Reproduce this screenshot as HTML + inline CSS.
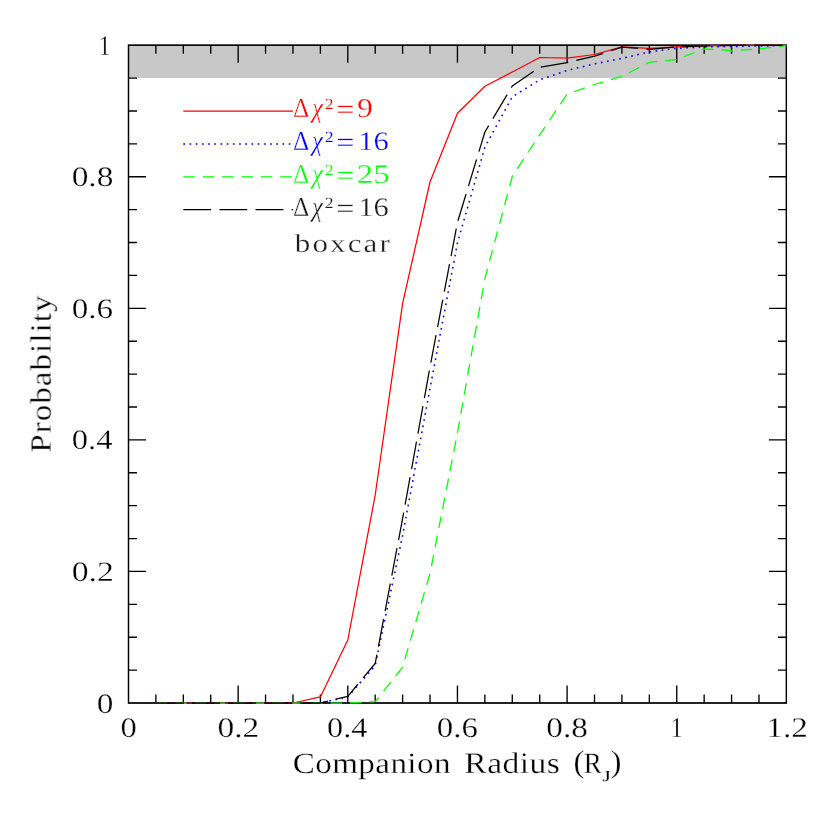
<!DOCTYPE html>
<html><head><meta charset="utf-8"><title>Probability vs Companion Radius</title>
<style>
html,body{margin:0;padding:0;background:#fff;}
svg{display:block;}
text{font-family:"Liberation Serif",serif;text-rendering:geometricPrecision;}
</style></head><body>
<svg width="830" height="830" viewBox="0 0 830 830">
<rect x="0" y="0" width="830" height="830" fill="#fff"/>
<rect x="128.5" y="45.2" width="657.9" height="32.9" fill="#c8c8c8"/>
<path d="M155.91 703.00v-8.5M155.91 45.20v8.5M183.32 703.00v-8.5M183.32 45.20v8.5M210.74 703.00v-8.5M210.74 45.20v8.5M238.15 703.00v-17.5M238.15 45.20v17.5M265.56 703.00v-8.5M265.56 45.20v8.5M292.98 703.00v-8.5M292.98 45.20v8.5M320.39 703.00v-8.5M320.39 45.20v8.5M347.80 703.00v-17.5M347.80 45.20v17.5M375.21 703.00v-8.5M375.21 45.20v8.5M402.62 703.00v-8.5M402.62 45.20v8.5M430.04 703.00v-8.5M430.04 45.20v8.5M457.45 703.00v-17.5M457.45 45.20v17.5M484.86 703.00v-8.5M484.86 45.20v8.5M512.28 703.00v-8.5M512.28 45.20v8.5M539.69 703.00v-8.5M539.69 45.20v8.5M567.10 703.00v-17.5M567.10 45.20v17.5M594.51 703.00v-8.5M594.51 45.20v8.5M621.92 703.00v-8.5M621.92 45.20v8.5M649.34 703.00v-8.5M649.34 45.20v8.5M676.75 703.00v-17.5M676.75 45.20v17.5M704.16 703.00v-8.5M704.16 45.20v8.5M731.58 703.00v-8.5M731.58 45.20v8.5M758.99 703.00v-8.5M758.99 45.20v8.5M128.50 670.11h8.5M786.40 670.11h-8.5M128.50 637.22h8.5M786.40 637.22h-8.5M128.50 604.33h8.5M786.40 604.33h-8.5M128.50 571.44h17.5M786.40 571.44h-17.5M128.50 538.55h8.5M786.40 538.55h-8.5M128.50 505.66h8.5M786.40 505.66h-8.5M128.50 472.77h8.5M786.40 472.77h-8.5M128.50 439.88h17.5M786.40 439.88h-17.5M128.50 406.99h8.5M786.40 406.99h-8.5M128.50 374.10h8.5M786.40 374.10h-8.5M128.50 341.21h8.5M786.40 341.21h-8.5M128.50 308.32h17.5M786.40 308.32h-17.5M128.50 275.43h8.5M786.40 275.43h-8.5M128.50 242.54h8.5M786.40 242.54h-8.5M128.50 209.65h8.5M786.40 209.65h-8.5M128.50 176.76h17.5M786.40 176.76h-17.5M128.50 143.87h8.5M786.40 143.87h-8.5M128.50 110.98h8.5M786.40 110.98h-8.5M128.50 78.09h8.5M786.40 78.09h-8.5" fill="none" stroke="#000" stroke-width="1.35"/>
<rect x="128.5" y="45.2" width="657.9" height="657.8" fill="none" stroke="#000" stroke-width="1.25"/>
<rect x="128.5" y="45.2" width="657.9" height="657.8" fill="none" stroke="#000" stroke-width="1.25"/>
<polyline points="155.9,703.0 183.3,703.0 210.7,703.0 238.2,703.0 265.6,703.0 293.0,703.0 320.4,696.9 347.8,640.0 375.2,495.0 402.6,303.6 430.0,182.0 457.5,113.2 484.9,86.3 512.3,72.0 539.7,57.5 567.1,58.2 594.5,54.5 621.9,46.8 649.3,48.3 676.8,46.9 704.2,45.8 731.6,45.3 759.0,45.3 786.4,45.3" fill="none" stroke="#ff0000" stroke-width="1.25" stroke-linejoin="round"/>
<polyline points="155.9,703.0 183.3,703.0 210.7,703.0 238.2,703.0 265.6,703.0 293.0,703.0 320.4,703.0 347.8,696.8 375.2,665.6 402.6,535.4 430.0,388.5 457.5,242.7 484.9,147.0 512.3,96.8 539.7,79.8 567.1,70.4 594.5,63.9 621.9,58.4 649.3,51.9 676.8,48.3 704.2,46.9 731.6,46.5 759.0,46.0 786.4,45.5" fill="none" stroke="#0000ff" stroke-width="1.55" stroke-dasharray="1.7 4.5" stroke-linejoin="round"/>
<polyline points="155.9,703.0 183.3,703.0 210.7,703.0 238.2,703.0 265.6,703.0 293.0,703.0 320.4,703.0 347.8,703.0 375.2,701.7 402.6,667.2 430.0,573.4 457.5,432.5 484.9,278.5 512.3,176.3 539.7,134.8 567.1,94.2 594.5,84.5 621.9,76.3 649.3,62.3 676.8,59.5 704.2,48.8 731.6,50.7 759.0,48.9 786.4,45.7" fill="none" stroke="#00ff00" stroke-width="1.25" stroke-dasharray="11.5 7.9" stroke-linejoin="round"/>
<polyline points="155.9,703.0 183.3,703.0 210.7,703.0 238.2,703.0 265.6,703.0 293.0,703.0 320.4,703.0 347.8,696.3 375.2,663.5 402.6,518.6 430.0,367.0 457.5,222.2 484.9,132.0 512.3,86.0 539.7,67.3 567.1,62.6 594.5,56.2 621.9,47.1 649.3,49.3 676.8,47.0 704.2,45.8 731.6,45.3 759.0,45.3 786.4,45.3" fill="none" stroke="#000" stroke-width="1.25" stroke-dasharray="27.9 8.2" stroke-linejoin="round"/>
<path d="M183.3 111.0H293.0" stroke="#ff0000" stroke-width="1.25"/>
<path d="M183.3 143.9H293.0" stroke="#0000ff" stroke-width="1.55" stroke-dasharray="1.7 4.5"/>
<path d="M183.3 176.8H293.0" stroke="#00ff00" stroke-width="1.25" stroke-dasharray="11.5 7.9"/>
<path d="M183.3 209.7H293.0" stroke="#000" stroke-width="1.25" stroke-dasharray="27.9 8.2"/>
<g opacity="0.999">
<text transform="matrix(0.2526 0 0 0.2742 292.99 117.48)" font-size="100" fill="#ff0000" stroke="#fff" stroke-width="1.14">Δ</text>
<text transform="matrix(0.2481 0 0 0.2836 311.89 117.42)" font-size="100" fill="#ff0000" font-style="italic" stroke="#fff" stroke-width="1.13">χ</text>
<text transform="matrix(0.1756 0 0 0.1567 324.80 109.22)" font-size="100" fill="#ff0000" stroke="#fff" stroke-width="0.60">2</text>
<text transform="matrix(0.3234 0 0 0.2880 336.18 119.03)" font-size="100" fill="#ff0000" stroke="#fff" stroke-width="1.14">=</text>
<text transform="matrix(0.3186 0 0 0.2701 357.04 117.41)" font-size="100" fill="#ff0000" stroke="#fff" stroke-width="1.02">9</text>
<text transform="matrix(0.2526 0 0 0.2742 292.99 150.37)" font-size="100" fill="#0000ff" stroke="#fff" stroke-width="1.14">Δ</text>
<text transform="matrix(0.2481 0 0 0.2836 311.89 150.31)" font-size="100" fill="#0000ff" font-style="italic" stroke="#fff" stroke-width="1.13">χ</text>
<text transform="matrix(0.1756 0 0 0.1567 324.80 142.11)" font-size="100" fill="#0000ff" stroke="#fff" stroke-width="0.60">2</text>
<text transform="matrix(0.3234 0 0 0.2880 336.18 151.92)" font-size="100" fill="#0000ff" stroke="#fff" stroke-width="1.14">=</text>
<text transform="matrix(0.3068 0 0 0.2676 358.14 150.13)" font-size="100" fill="#0000ff" stroke="#fff" stroke-width="1.04">16</text>
<text transform="matrix(0.2526 0 0 0.2742 292.99 183.26)" font-size="100" fill="#00ff00" stroke="#fff" stroke-width="1.14">Δ</text>
<text transform="matrix(0.2481 0 0 0.2836 311.89 183.20)" font-size="100" fill="#00ff00" font-style="italic" stroke="#fff" stroke-width="1.13">χ</text>
<text transform="matrix(0.1756 0 0 0.1567 324.80 175.00)" font-size="100" fill="#00ff00" stroke="#fff" stroke-width="0.60">2</text>
<text transform="matrix(0.3234 0 0 0.2880 336.18 184.81)" font-size="100" fill="#00ff00" stroke="#fff" stroke-width="1.14">=</text>
<text transform="matrix(0.3304 0 0 0.2701 356.68 183.19)" font-size="100" fill="#00ff00" stroke="#fff" stroke-width="1.00">25</text>
<text transform="matrix(0.2526 0 0 0.2742 292.99 216.15)" font-size="100" fill="#1c1c1c" stroke="#fff" stroke-width="1.14">Δ</text>
<text transform="matrix(0.2481 0 0 0.2836 311.89 216.09)" font-size="100" fill="#1c1c1c" font-style="italic" stroke="#fff" stroke-width="1.13">χ</text>
<text transform="matrix(0.1756 0 0 0.1567 324.80 207.89)" font-size="100" fill="#1c1c1c" stroke="#fff" stroke-width="0.60">2</text>
<text transform="matrix(0.3234 0 0 0.2880 336.18 217.70)" font-size="100" fill="#1c1c1c" stroke="#fff" stroke-width="1.14">=</text>
<text transform="matrix(0.3068 0 0 0.2676 358.14 215.91)" font-size="100" fill="#1c1c1c" stroke="#fff" stroke-width="1.04">16</text>
<text transform="matrix(0.3103 0 0 0.2586 294.80 251.64)" font-size="100" fill="#1c1c1c" letter-spacing="6.78" stroke="#fff" stroke-width="1.05">boxcar</text>
<text transform="matrix(0.3262 0 0 0.2824 120.40 736.84)" font-size="100" fill="#000" stroke="#fff" stroke-width="0.99">0</text>
<text transform="matrix(0.3345 0 0 0.2824 217.41 736.84)" font-size="100" fill="#000" stroke="#fff" stroke-width="0.97">0.2</text>
<text transform="matrix(0.3233 0 0 0.2824 327.11 736.84)" font-size="100" fill="#000" stroke="#fff" stroke-width="0.99">0.4</text>
<text transform="matrix(0.3288 0 0 0.2824 436.73 736.84)" font-size="100" fill="#000" stroke="#fff" stroke-width="0.98">0.6</text>
<text transform="matrix(0.3316 0 0 0.2824 546.37 736.84)" font-size="100" fill="#000" stroke="#fff" stroke-width="0.98">0.8</text>
<text transform="matrix(0.2457 0 0 0.2864 670.59 737.10)" font-size="100" fill="#000" stroke="#fff" stroke-width="1.13">1</text>
<text transform="matrix(0.3315 0 0 0.2851 766.32 737.01)" font-size="100" fill="#000" stroke="#fff" stroke-width="0.97">1.2</text>
<text transform="matrix(0.3333 0 0 0.2809 96.87 712.54)" font-size="100" fill="#000" stroke="#fff" stroke-width="0.98">0</text>
<text transform="matrix(0.3371 0 0 0.2816 71.65 580.88)" font-size="100" fill="#000" stroke="#fff" stroke-width="0.97">0.2</text>
<text transform="matrix(0.3258 0 0 0.2816 71.70 449.32)" font-size="100" fill="#000" stroke="#fff" stroke-width="0.99">0.4</text>
<text transform="matrix(0.3314 0 0 0.2816 71.67 317.76)" font-size="100" fill="#000" stroke="#fff" stroke-width="0.98">0.6</text>
<text transform="matrix(0.3342 0 0 0.2816 71.66 186.20)" font-size="100" fill="#000" stroke="#fff" stroke-width="0.97">0.8</text>
<text transform="matrix(0.2429 0 0 0.2833 98.51 54.60)" font-size="100" fill="#000" stroke="#fff" stroke-width="1.14">1</text>
<text transform="matrix(0.3309 0 0 0.2954 292.68 773.20)" font-size="100" fill="#000" letter-spacing="1.28" stroke="#fff" stroke-width="0.96">Companion</text>
<text transform="matrix(0.3360 0 0 0.3000 464.29 773.30)" font-size="100" fill="#000" letter-spacing="1.34" stroke="#fff" stroke-width="0.94">Radius</text>
<text transform="matrix(0.3269 0 0 0.3133 573.59 771.72)" font-size="100" fill="#000" stroke="#fff" stroke-width="0.94">(</text>
<text transform="matrix(0.2703 0 0 0.2955 583.79 773.20)" font-size="100" fill="#000" stroke="#fff" stroke-width="1.06">R</text>
<text transform="matrix(0.2257 0 0 0.1530 602.25 780.55)" font-size="100" fill="#000" stroke="#fff" stroke-width="0.53">J</text>
<text transform="matrix(0.3308 0 0 0.3133 610.61 771.72)" font-size="100" fill="#000" stroke="#fff" stroke-width="0.93">)</text>
<text transform="matrix(0 -0.3291 0.2938 0 51.10 452.59)" font-size="100" fill="#000" letter-spacing="3.27" stroke="#fff" stroke-width="0.96">Probability</text>
</g>
</svg></body></html>
